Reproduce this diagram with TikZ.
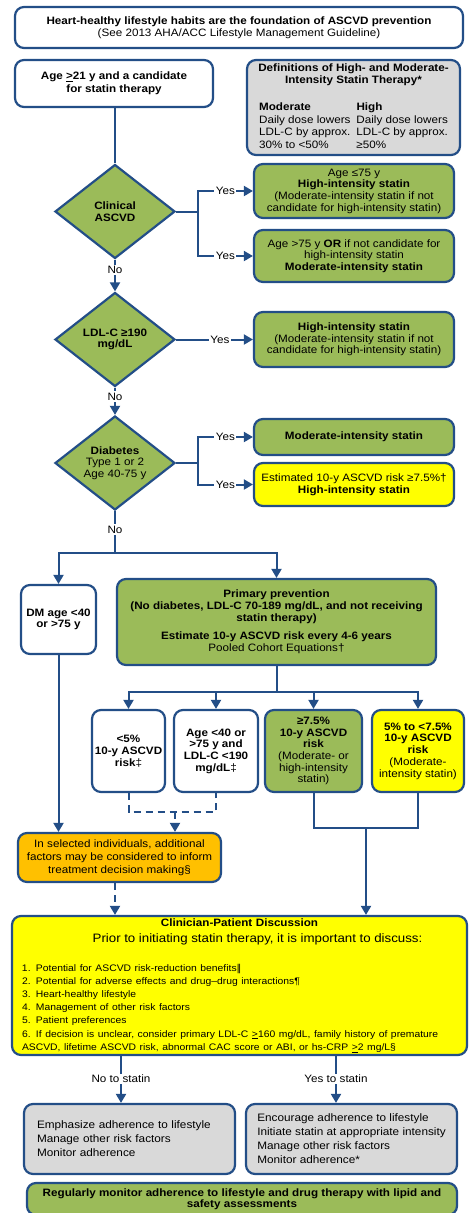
\documentclass[tikz,border=0pt]{standalone}
\usepackage{fontspec}
\setmainfont{Liberation Sans}[FakeStretch=1.09]
\newfontfamily\dvfont{DejaVu Sans}
\usetikzlibrary{arrows.meta,shapes.geometric,calc}
\definecolor{bc}{RGB}{35,78,135}
\definecolor{gr}{RGB}{155,187,89}
\definecolor{yel}{RGB}{255,255,0}
\definecolor{org}{RGB}{255,192,0}
\definecolor{gry}{RGB}{217,217,217}
\newcommand\fA{\fontsize{10.7}{11.7}\selectfont}
\newcommand\fB{\fontsize{10.7}{13}\selectfont}
\begin{document}
\begin{tikzpicture}[x=1pt,y=-1pt,font=\fA,
  box/.style={draw=bc,line width=2.2pt,rounded corners=9pt,inner sep=0pt},
  cbox/.style={box,align=center},
  dia/.style={shape=diamond,aspect=1.3,draw=bc,fill=gr,line width=2.2pt,inner sep=0pt,
    minimum width=120pt,minimum height=94pt,align=center},
  conn/.style={draw=bc,line width=2pt},
  arr/.style={conn,-{Triangle[length=9pt,width=10pt]}},
  lab/.style={fill=white,inner sep=1.5pt,text=black},
  dash7/.style={dash pattern=on 7pt off 5pt}]
\useasboundingbox (0,0) rectangle (469,1213);
\clip (0,0) rectangle (469,1213);

% header and entry
\node[cbox,fill=white,minimum width=448pt,minimum height=41pt,font=\fontsize{10.7}{12}\selectfont] (top) at (239,27.5)
  {\textbf{Heart-healthy lifestyle habits are the foundation of ASCVD prevention}\\(See 2013 AHA/ACC Lifestyle Management Guideline)};
\node[cbox,fill=white,minimum width=198pt,minimum height=47pt,font=\fB\bfseries] (age) at (114,83.5)
  {Age \underline{>}21 y and a candidate\\for statin therapy};
\node[cbox,fill=gry,minimum width=213pt,minimum height=95pt,font=\fontsize{10.7}{12.5}\selectfont] (defs) at (353.5,107.5)
  {\textbf{Definitions of High- and Moderate-}\\\textbf{Intensity Statin Therapy*}\\[14.5pt]%
   \begin{tabular}[t]{@{}l@{\hspace{6pt}}l@{}}\textbf{Moderate}&\textbf{High}\\
   Daily dose lowers&Daily dose lowers\\LDL-C by approx.&LDL-C by approx.\\30\% to <50\%&≥50\%\end{tabular}};

% clinical ASCVD
\node[dia,font=\fA\bfseries] (d1) at (115,211.5) {Clinical\\ASCVD};
\node[cbox,fill=gr,minimum width=200pt,minimum height=54pt] (cl1) at (354,191)
  {Age ≤75 y\\\textbf{High-intensity statin}\\(Moderate-intensity statin if not\\candidate for high-intensity statin)};
\node[cbox,fill=gr,minimum width=200pt,minimum height=52pt] (cl2) at (354,256)
  {Age >75 y \textbf{OR} if not candidate for\\high-intensity statin\\\textbf{Moderate-intensity statin}};

% LDL-C
\node[dia,font=\fA\bfseries] (d2) at (115,339.5) {LDL-C ≥190\\mg/dL};
\node[cbox,fill=gr,minimum width=200pt,minimum height=55pt] (ldl) at (354,339.5)
  {\textbf{High-intensity statin}\\(Moderate-intensity statin if not\\candidate for high-intensity statin)};

% diabetes
\node[dia] (d3) at (115,463) {\textbf{Diabetes}\\Type 1 or 2\\Age 40-75 y};
\node[cbox,fill=gr,minimum width=200pt,minimum height=36pt] (mod) at (354,437)
  {\textbf{Moderate-intensity statin}};
\node[cbox,fill=yel,minimum width=200pt,minimum height=43pt] (yb) at (354,484.5)
  {Estimated 10-y ASCVD risk ≥7.5\%†\\\textbf{High-intensity statin}};

% primary prevention
\node[cbox,fill=white,minimum width=75pt,minimum height=69pt,font=\fA\bfseries] (dm) at (58.5,619.5)
  {DM age <40\\or >75 y};
\node[cbox,fill=gr,minimum width=319pt,minimum height=86pt] (pp) at (276.5,622)
  {\textbf{Primary prevention}\\\textbf{(No diabetes, LDL-C 70-189 mg/dL, and not receiving}\\\textbf{statin therapy)}\\[7pt]%
   \textbf{Estimate 10-y ASCVD risk every 4-6 years}\\Pooled Cohort Equations†};

% risk categories
\node[cbox,fill=white,minimum width=73pt,minimum height=82pt,font=\fA\bfseries] (ra) at (128.5,751)
  {<5\%\\10-y ASCVD\\risk{\mdseries ‡}};
\node[cbox,fill=white,minimum width=84pt,minimum height=82pt,font=\fA\bfseries] (rb) at (216,751)
  {Age <40 or\\>75 y and\\LDL-C <190\\mg/dL{\mdseries ‡}};
\node[cbox,fill=gr,minimum width=97pt,minimum height=82pt] (rc) at (313.5,751)
  {\textbf{≥7.5\%}\\\textbf{10-y ASCVD}\\\textbf{risk}\\(Moderate- or\\high-intensity\\statin)};
\node[cbox,fill=yel,minimum width=92pt,minimum height=82pt] (rd) at (418,751)
  {\textbf{5\% to <7.5\%}\\\textbf{10-y ASCVD}\\\textbf{risk}\\(Moderate-\\intensity statin)};

\node[cbox,fill=org,minimum width=203pt,minimum height=49pt,font=\fB] (orng) at (119.5,857.5)
  {In selected individuals, additional\\factors may be considered to inform\\treatment decision making§};

% discussion
\node[box,fill=yel,minimum width=455pt,minimum height=139pt,text width=435pt] (disc) at (239.5,985.5)
  {\centering{\bfseries Clinician-Patient Discussion}\par
   \fontsize{12.2}{16}\selectfont\hspace*{36pt}Prior to initiating statin therapy, it is important to discuss:\par
   \vspace{15.6pt}%
   \raggedright\fontsize{9.5}{13.2}\selectfont
   1. Potential for ASCVD risk-reduction benefits{\dvfont ‖}\\
   2. Potential for adverse effects and drug–drug interactions¶\\
   3. Heart-healthy lifestyle\\
   4. Management of other risk factors\\
   5. Patient preferences\\
   6. If decision is unclear, consider primary LDL-C \underline{>}160 mg/dL, family history of premature\\
   ASCVD, lifetime ASCVD risk, abnormal CAC score or ABI, or hs-CRP \underline{>}2 mg/L§\par};

\node[box,fill=gry,minimum width=211pt,minimum height=70pt,align=left,text width=185pt,font=\fontsize{10.8}{14}\selectfont] (glb) at (129.5,1139)
  {Emphasize adherence to lifestyle\\Manage other risk factors\\Monitor adherence};
\node[box,fill=gry,minimum width=211pt,minimum height=70pt,align=left,font=\fontsize{10.8}{14}\selectfont] (grb) at (351.5,1139)
  {Encourage adherence to lifestyle\\Initiate statin at appropriate intensity\\Manage other risk factors\\Monitor adherence*};
\node[cbox,fill=gr,minimum width=430pt,minimum height=32pt,font=\fontsize{10.7}{10.8}\selectfont\bfseries] (bot) at (242,1199)
  {Regularly monitor adherence to lifestyle and drug therapy with lipid and\\safety assessments};

% connectors
\coordinate (b1) at (198,211.5);
\coordinate (b3) at (198,463);
\coordinate (j1) at (115,553);
\coordinate (j2) at (276.5,692);
\coordinate (dmid) at (175,812);
\coordinate (cd) at (366,828);
\coordinate (nL) at (121,1055);
\coordinate (nR) at (336,1055);

\draw[conn] (age.south -| d1.north) -- (d1.north);
\draw[conn] (d1.east) -- (b1);
\draw[arr] (b1) |- node[lab,pos=0.75]{Yes} (cl1.west);
\draw[arr] (b1) |- node[lab,pos=0.75]{Yes} (cl2.west);
\draw[arr] (d1.south) -- node[lab,pos=0.33]{No} (d2.north);
\draw[arr] (d2.east) -- node[lab,pos=0.57]{Yes} (ldl.west);
\draw[arr] (d2.south) -- node[lab,pos=0.33]{No} (d3.north);
\draw[conn] (d3.east) -- (b3);
\draw[arr] (b3) |- node[lab,pos=0.75]{Yes} (mod.west);
\draw[arr] (b3) |- node[lab,pos=0.75]{Yes} (yb.west);
\draw[conn] (d3.south) -- node[lab,pos=0.44]{No} (j1);
\draw[arr] (j1) -| (dm.north);
\draw[arr] (j1) -| (pp.north);
\draw[conn] (pp.south) -- (j2);
\draw[arr] (j2) -| (ra.north);
\draw[arr] (j2) -| (rb.north);
\draw[arr] (j2) -| (rc.north);
\draw[arr] (j2) -| (rd.north);
\draw[conn,dash7] (ra.south) -- (ra.south |- dmid) -- (rb.south |- dmid) -- (rb.south);
\draw[arr,dash7] (dmid) -- (dmid |- orng.north);
\draw[arr] (dm.south) -- (dm.south |- orng.north);
\draw[conn] (rc.south) -- (rc.south |- cd) -- (rd.south |- cd) -- (rd.south);
\draw[arr] (cd) -- (cd |- disc.north);
\draw[arr,dash7] (orng.south -| j1) -- (j1 |- disc.north);
\draw[arr] (nL) -- node[lab]{No to statin} (nL |- glb.north);
\draw[arr] (nR) -- node[lab]{Yes to statin} (nR |- grb.north);
\end{tikzpicture}
\end{document}
